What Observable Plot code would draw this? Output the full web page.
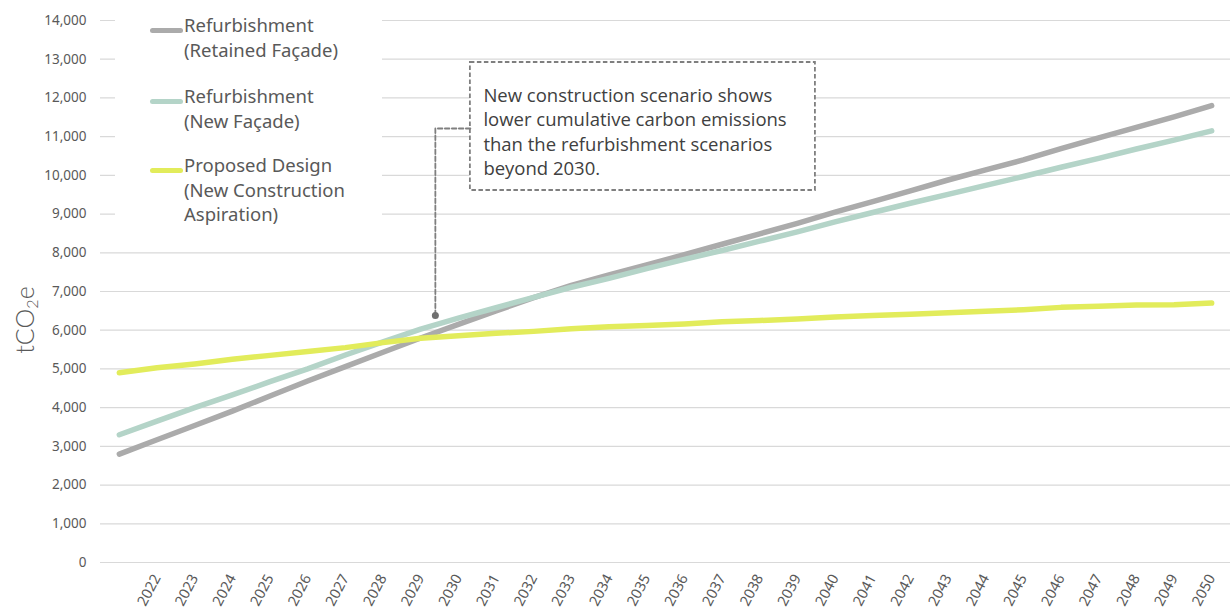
<!DOCTYPE html>
<html>
<head>
<meta charset="utf-8">
<script src="https://cdn.jsdelivr.net/npm/d3@7"></script>
<script src="https://cdn.jsdelivr.net/npm/@observablehq/plot@0.6"></script>
<style>
  html, body { margin: 0; padding: 0; background: #fff; }
  #wrap { position: relative; width: 1231px; height: 612px; overflow: hidden; }
  #legend { position: absolute; left: 115px; top: 8px; width: 267px; height: 222px; background: #fff;
            font-family: "Noto Sans", sans-serif; font-size: 18.5px; line-height: 24.5px; color: #595959; }
  .sw { position: absolute; left: 35px; width: 33px; height: 5px; border-radius: 3px; }
  .lt { position: absolute; left: 69px; white-space: nowrap; }
  #ylab { position: absolute; left: 25px; top: 320px; transform: translate(-50%, -50%) rotate(-90deg);
          font-family: Lato, sans-serif; font-weight: 300; font-size: 25px; color: #595959; white-space: nowrap; }
  #ylab sub { font-size: 0.65em; vertical-align: -0.25em; }
</style>
</head>
<body>
<div id="wrap"></div>
<script>
// ---- data ----
const years = [2021,2022,2023,2024,2025,2026,2027,2028,2029,2030,2031,2032,2033,2034,2035,2036,2037,2038,2039,2040,2041,2042,2043,2044,2045,2046,2047,2048,2049,2050];
const tickYears = [2022,2023,2024,2025,2026,2027,2028,2029,2030,2031,2032,2033,2034,2035,2036,2037,2038,2039,2040,2041,2042,2043,2044,2045,2046,2047,2048,2049,2050];
const yTicks = [0,1000,2000,3000,4000,5000,6000,7000,8000,9000,10000,11000,12000,13000,14000];
const retainedFacade = [2800,3170,3540,3910,4300,4690,5060,5430,5800,6150,6500,6840,7160,7430,7690,7950,8220,8490,8760,9050,9320,9600,9880,10140,10400,10690,10970,11240,11510,11800];
const newFacade = [3300,3650,4000,4330,4670,5000,5360,5700,6030,6310,6580,6850,7110,7340,7590,7830,8060,8300,8540,8800,9040,9280,9510,9740,9970,10210,10440,10680,10910,11150];
const proposedDesign = [4900,5030,5130,5250,5350,5450,5550,5680,5790,5860,5920,5970,6040,6090,6120,6160,6220,6250,6290,6340,6380,6410,6450,6490,6530,6590,6620,6650,6660,6700];
const seriesNames = ["Refurbishment\n(Retained Façade)", "Refurbishment\n(New Façade)", "Proposed Design\n(New Construction\nAspiration)"];
const seriesColors = ["#ababab", "#b4d4c8", "#e2ec5b"];
const annotationText = "New construction scenario shows\nlower cumulative carbon emissions\nthan the refurbishment scenarios\nbeyond 2030.";
// annotation anchor (data coords) and box extent
const annPoint = {x: 2029.39, y: 6380};
const annElbowY = 11210;
const annBox = {x1: 2030.32, x2: 2039.48, y1: 9609, y2: 12915};

const seriesValues = [retainedFacade, newFacade, proposedDesign];
const rows = [];
seriesValues.forEach((vals, s) => vals.forEach((v, i) => rows.push({year: years[i], value: v, series: s})));

const leader = [
  {x: annBox.x1, y: annElbowY},
  {x: annPoint.x, y: annElbowY},
  {x: annPoint.x, y: annPoint.y}
];

const chart = Plot.plot({
  width: 1231,
  height: 612,
  marginLeft: 100,
  marginRight: 1,
  marginTop: 20,
  marginBottom: 50,
  style: {fontFamily: "'Noto Sans', sans-serif", fontSize: "13.5px", color: "#595959", background: "transparent"},
  x: {domain: [2020.5, 2050.5]},
  y: {domain: [0, 14000]},
  marks: [
    Plot.ruleY(yTicks, {stroke: "#d9d9d9", strokeWidth: 1.2}),
    Plot.axisY(yTicks, {tickSize: 0, tickPadding: 14, tickFormat: d3.format(","), label: null, fill: "#595959"}),
    Plot.axisX(tickYears, {tickSize: 0, tickPadding: 13, tickRotate: -62, fontSize: 14.5, tickFormat: d => String(d), label: null, fill: "#595959"}),
    ...seriesValues.map((vals, s) => Plot.line(rows.filter(r => r.series === s), {
      x: "year", y: "value", stroke: seriesColors[s], strokeWidth: 5.5,
      strokeLinecap: "round", strokeLinejoin: "round"
    })),
    Plot.rect([annBox], {x1: "x1", x2: "x2", y1: "y1", y2: "y2", fill: "white", stroke: "#7f7f7f", strokeWidth: 1.8, strokeDasharray: "4.5,2.5"}),
    Plot.line(leader, {x: "x", y: "y", stroke: "#7f7f7f", strokeWidth: 1.8, strokeDasharray: "4.5,2.5"}),
    Plot.dot([annPoint], {x: "x", y: "y", r: 3.5, fill: "#707070"}),
    Plot.text([annBox], {x: "x1", y: "y2", text: () => annotationText, textAnchor: "start", lineAnchor: "top",
      dx: 13, dy: 22, fontSize: 18.5, lineHeight: 1.32, fill: "#404040", fontFamily: "'Open Sans', sans-serif"})
  ]
});

const wrap = document.getElementById("wrap");
wrap.appendChild(chart);

// legend (HTML overlay)
const legend = document.createElement("div");
legend.id = "legend";
const groupTops = [5, 76, 145];
seriesNames.forEach((name, i) => {
  const sw = document.createElement("div");
  sw.className = "sw";
  sw.style.background = seriesColors[i];
  sw.style.top = (groupTops[i] + 15) + "px";
  legend.appendChild(sw);
  const t = document.createElement("div");
  t.className = "lt";
  t.style.top = groupTops[i] + "px";
  t.innerHTML = name.split("\n").join("<br>");
  legend.appendChild(t);
});
wrap.appendChild(legend);

const ylab = document.createElement("div");
ylab.id = "ylab";
ylab.innerHTML = "tCO<sub>2</sub>e";
wrap.appendChild(ylab);
</script>
</body>
</html>
